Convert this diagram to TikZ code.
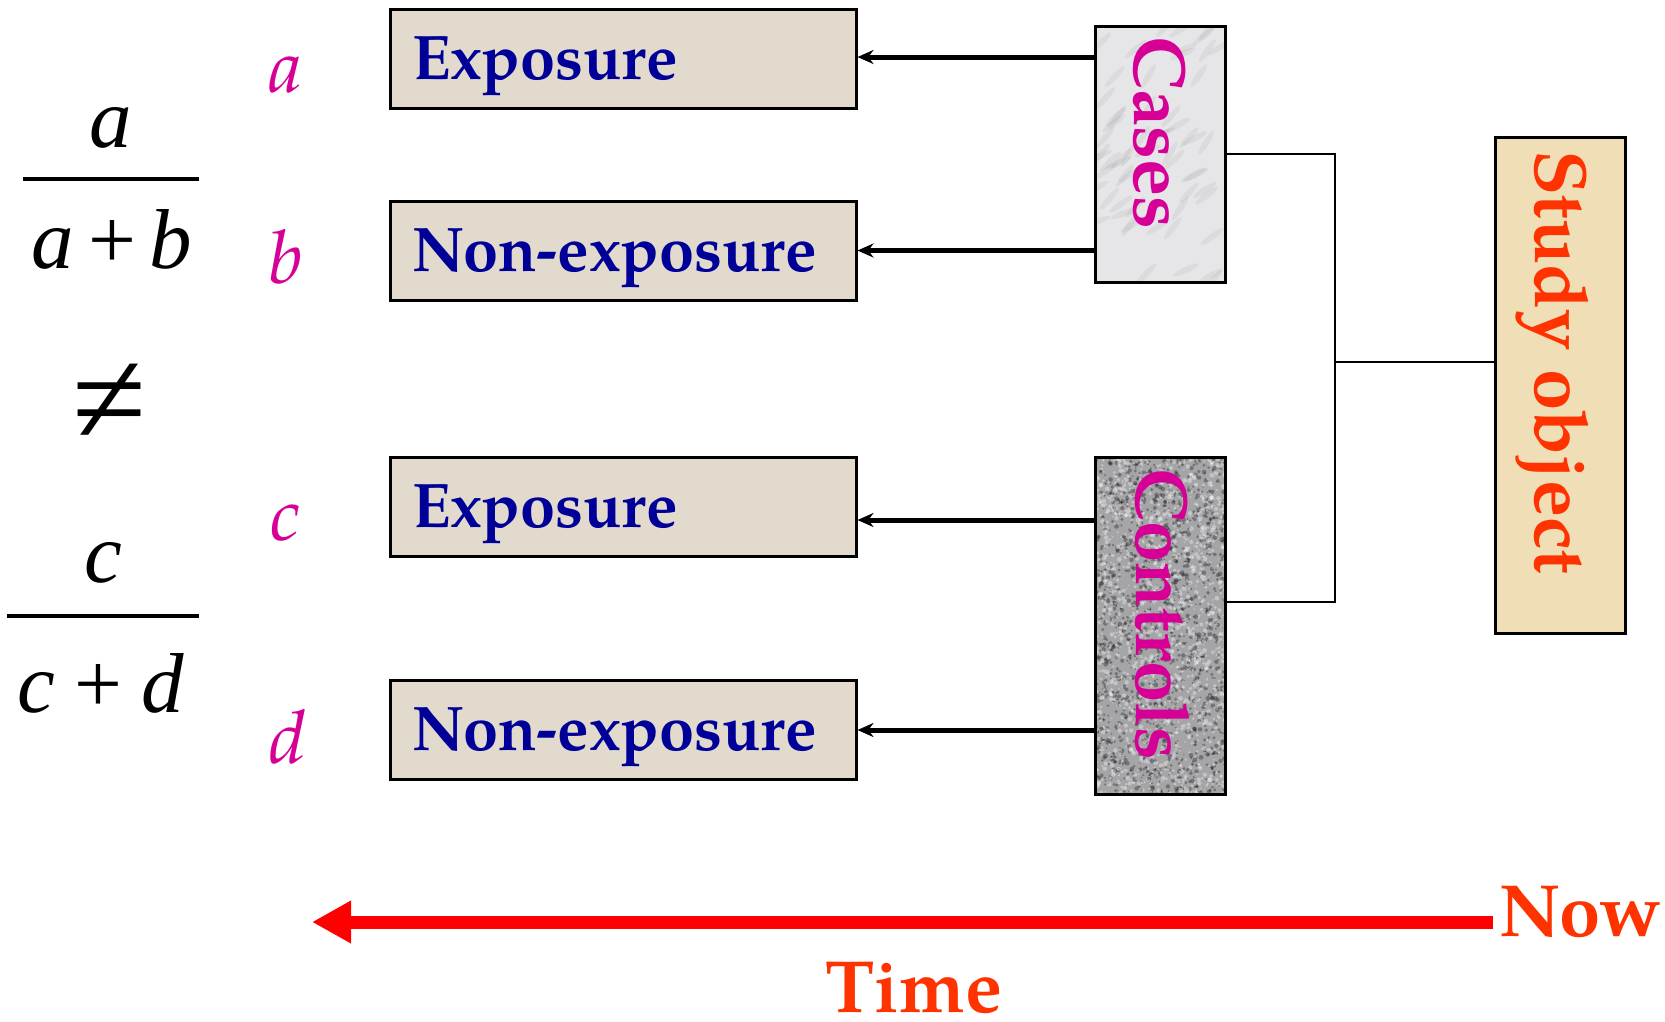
\documentclass[tikz,border=0pt]{standalone}
\usepackage{fontspec}
\usetikzlibrary{arrows.meta}
\newfontfamily\pal{TeX Gyre Pagella}
\newfontfamily\tms{Liberation Serif}
\definecolor{boxblue}{RGB}{0,0,153}
\definecolor{mag}{RGB}{214,0,150}
\definecolor{orng}{RGB}{255,51,0}
\definecolor{beige}{RGB}{226,218,204}
\definecolor{marble}{RGB}{230,230,232}
\definecolor{noisegray}{RGB}{165,165,168}
\definecolor{parch}{RGB}{240,222,182}
\begin{document}
\begin{tikzpicture}[x=1pt,y=-1pt,
  expbox/.style={draw=black, line width=3pt, fill=beige, minimum width=466pt,
    minimum height=99pt, inner xsep=0pt, inner ysep=0pt, text width=422pt, align=left,
    text height=45pt, text depth=4pt, text=boxblue,
    font=\pal\bfseries\fontsize{63}{63}\selectfont},
  grpbox/.style={draw=black, line width=3pt, minimum width=130pt, inner sep=0pt, outer sep=0pt},
  grpedge/.style={draw=black, line width=3pt},
  vlabel/.style={rotate=-90, anchor=base west, inner sep=0pt,
    font=\pal\bfseries\fontsize{74}{74}\selectfont},
  letlabel/.style={anchor=base, inner sep=0pt, text=mag,
    font=\pal\itshape\fontsize{74}{74}\selectfont},
  fracfont/.style={anchor=base, inner sep=0pt, font=\tms\itshape\fontsize{85}{85}\selectfont},
  blkarrow/.style={line width=5pt, -{Stealth[length=16pt,width=14pt]}},
  bracket/.style={line width=2.4pt},
  redarrow/.style={draw=red, line width=13pt, -{Triangle[length=39pt,width=40pt]}},
  timefont/.style={inner sep=0pt, text=orng, font=\pal\bfseries\fontsize{74}{74}\selectfont}
]
\useasboundingbox (0,0) rectangle (1665,1021);

% fractions
\node[fracfont] (fa) at (111,147) {a};
\draw[line width=4pt] (23,179) -- (199,179);
\node[fracfont] (fab) at (112,268) {a\kern14pt{\upshape+}\kern14pt b};
\node[anchor=center, inner sep=0pt, font=\tms\fontsize{135}{135}\selectfont] (neq) at (110,404) {≠};
\node[fracfont] (fc) at (103,582) {c};
\draw[line width=4pt] (7,616) -- (199,616);
\node[fracfont] (fcd) at (101,712) {c\kern19pt{\upshape+}\kern19pt d};

% letter labels
\node[letlabel] (la) at (286,92) {a};
\node[letlabel] (lb) at (286,283) {b};
\node[letlabel] (lc) at (286,540) {c};
\node[letlabel] (ld) at (288,763) {d};

% outcome boxes
\node[expbox] (e1) at (623,58.5) {Exposure};
\node[expbox] (e2) at (623,250.5) {Non-exposure};
\node[expbox] (e3) at (623,507) {Exposure};
\node[expbox] (e4) at (623,730) {Non-exposure};

% group boxes
\node[grpbox, fill=marble, minimum height=256pt] (cases) at (1160,154) {};
\node[grpbox, fill=noisegray, minimum height=337pt] (controls) at (1160,625.5) {};
\node[grpbox, fill=parch, minimum height=496pt] (study) at (1560,385) {};
% marble veins of the cases box
\begin{scope}
  \clip (cases.south west) rectangle (cases.north east);
  \pgfmathsetseed{77}
  \foreach \i in {1,...,60}{
    \pgfmathsetmacro{\px}{1095+130*rnd}
    \pgfmathsetmacro{\py}{26+256*rnd}
    \pgfmathsetmacro{\pa}{20+40*rnd}
    \fill[gray, opacity=0.1, rotate around={\pa:(\px,\py)}] (\px,\py) ellipse[x radius=14pt, y radius=3pt];
  }
\end{scope}
\draw[grpedge] (cases.south west) rectangle (cases.north east);
% speckle texture of the controls box
\begin{scope}
  \clip (controls.south west) rectangle (controls.north east);
  \pgfmathsetseed{4242}
  \foreach \i in {1,...,1500}{
    \pgfmathsetmacro{\px}{1095+130*rnd}
    \pgfmathsetmacro{\py}{457+337*rnd}
    \pgfmathsetmacro{\pr}{0.8+1.6*rnd}
    \fill[black, opacity=0.3] (\px,\py) circle[radius=\pr pt];
  }
  \foreach \i in {1,...,1500}{
    \pgfmathsetmacro{\px}{1095+130*rnd}
    \pgfmathsetmacro{\py}{457+337*rnd}
    \pgfmathsetmacro{\pr}{0.8+1.6*rnd}
    \fill[white, opacity=0.35] (\px,\py) circle[radius=\pr pt];
  }
\end{scope}
\draw[grpedge] (controls.south west) rectangle (controls.north east);
\node[vlabel, text=mag] (casest) at (1134,36) {Cases};
\node[vlabel, text=mag] (controlst) at (1136,468) {Controls};
\node[vlabel, text=orng] (studyt) at (1535,150) {Study object};

% arrows from groups to boxes
\coordinate (e1in) at ([yshift=1.5pt]e1.east);
\coordinate (e3in) at ([yshift=-13pt]e3.east);
\draw[blkarrow] (cases.west |- e1in) -- (e1in);
\draw[blkarrow] (cases.west |- e2.east) -- (e2.east);
\draw[blkarrow] (controls.west |- e3in) -- (e3in);
\draw[blkarrow] (controls.west |- e4.east) -- (e4.east);

% bracket
\coordinate (cj) at (1335,602);
\coordinate (sj) at (1335,362);
\draw[bracket] (cases.east) -| (cj) -- (controls.east |- cj);
\draw[bracket] (sj) -- (study.west |- sj);

% time arrow
\node[timefont, anchor=base west] (nowlbl) at (1499,936) {Now};
\node[timefont, anchor=base] (timelbl) at (914,1012) {Time};
\coordinate (tip) at (312,922);
\draw[redarrow, shorten <=6pt] (nowlbl.west |- tip) -- (tip);
\end{tikzpicture}
\end{document}
